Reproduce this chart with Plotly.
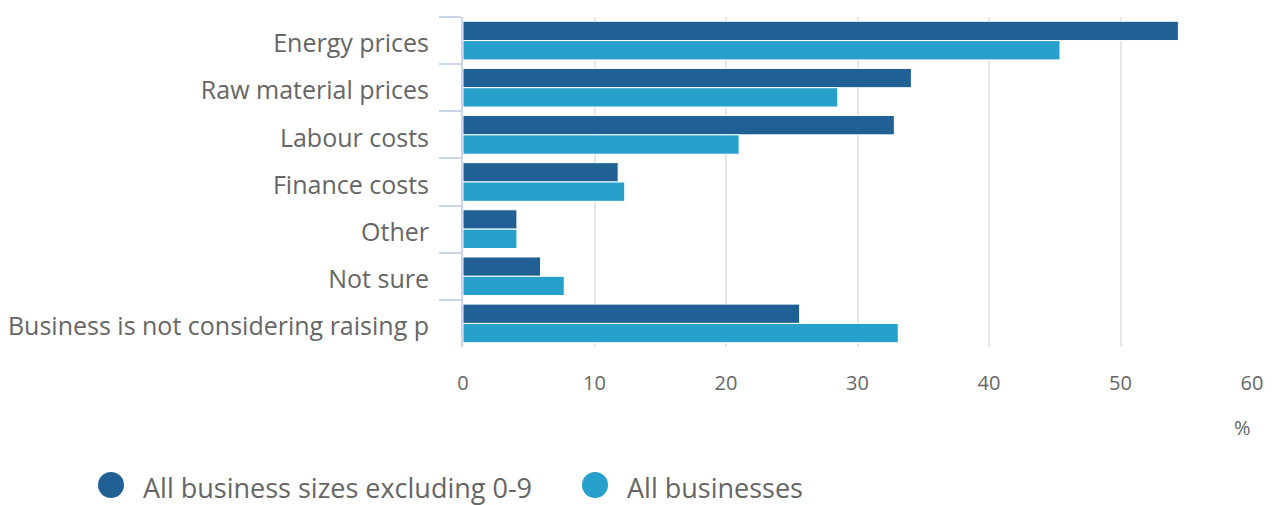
import plotly.graph_objects as go

# Reasons businesses give for considering raising prices (% of businesses)
categories = [
    "Energy prices",
    "Raw material prices",
    "Labour costs",
    "Finance costs",
    "Other",
    "Not sure",
    "Business is not considering raising p",
]
excl_small = [54.4, 34.1, 32.8, 11.8, 4.1, 5.9, 25.6]
all_business = [45.4, 28.5, 21.0, 12.3, 4.1, 7.7, 33.1]
series_names = ["All business sizes excluding 0-9", "All businesses"]
series_colors = ["#206095", "#27a0cc"]
x_ticks = [0, 10, 20, 30, 40, 50, 60]

FONT = "Open Sans"
TEXT = "#666666"

fig = go.Figure()
for name, vals, col in zip(series_names, [excl_small, all_business], series_colors):
    fig.add_trace(go.Bar(
        y=categories, x=vals, name=name, orientation="h",
        marker=dict(color=col, line=dict(color="white", width=1)),
        showlegend=False,
    ))

# Bottom legend drawn as circles + labels
legend_pos = [(111, 142), (595, 626)]
W, H = 1274, 505
L, R, T, B = 463, 22, 17, 158
pw = W - L - R
ph = H - T - B
shapes = []
annotations = []
for (cx, tx), name, col in zip(legend_pos, series_names, series_colors):
    xp = (cx - L) / pw
    shapes.append(dict(type="circle", xref="paper", yref="paper",
                       xsizemode="pixel", ysizemode="pixel",
                       xanchor=xp, yanchor=(H - B - 485) / ph,
                       x0=-13, x1=13, y0=-13, y1=13,
                       fillcolor=col, line=dict(width=0)))
    annotations.append(dict(text=name, xref="paper", yref="paper",
                            x=(tx - L) / pw, y=(H - B - 487) / ph,
                            xanchor="left", yanchor="middle", borderpad=0,
                            showarrow=False, font=dict(family=FONT, size=27, color=TEXT)))

annotations.append(dict(text="%", xref="paper", yref="paper",
                        x=(1242 - L) / pw, y=(H - B - 427) / ph,
                        xanchor="center", yanchor="middle", showarrow=False,
                        font=dict(family=FONT, size=20, color=TEXT)))

fig.update_layout(
    width=W, height=H,
    margin=dict(l=L, r=R, t=T, b=B),
    paper_bgcolor="white", plot_bgcolor="white",
    barmode="group", bargap=0.18, bargroupgap=0,
    shapes=shapes, annotations=annotations,
    font=dict(family=FONT, color=TEXT),
)
fig.update_xaxes(
    range=[0, 60], tickvals=x_ticks, showgrid=True, gridcolor="#e6e6e6", gridwidth=2,
    zeroline=False, showline=False, ticks="outside", ticklen=18, tickcolor="rgba(0,0,0,0)",
    tickfont=dict(family=FONT, size=20, color=TEXT), automargin=False,
)
fig.update_yaxes(
    autorange="reversed", tickson="boundaries", ticks="outside", ticklen=22,
    tickcolor="#ccd6eb", tickwidth=2, showline=True, linecolor="#ccd6eb", linewidth=2,
    showgrid=False, ticklabelstandoff=27, ticklabelshift=-3, automargin=False,
    tickfont=dict(family=FONT, size=25, color=TEXT),
)

fig.write_html("out.html")
